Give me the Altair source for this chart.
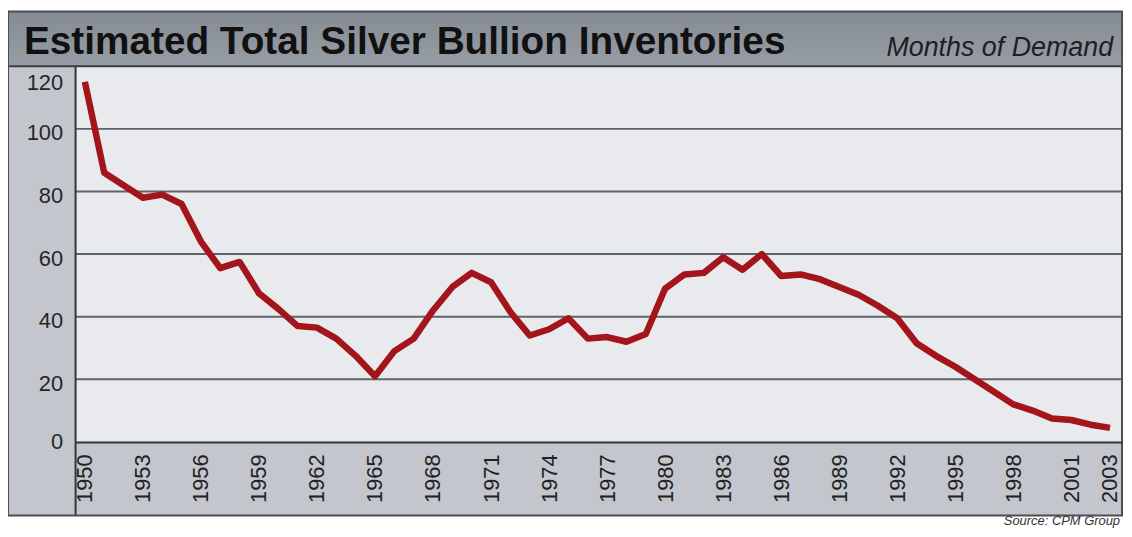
import altair as alt
import pandas as pd

# ---- data ----
years = list(range(1950, 2004))
months = [115, 86, 82, 78, 79, 76, 64, 55.5, 57.5, 47.5,
          42.5, 37, 36.5, 33, 27.5, 21, 29, 33, 42, 49.5,
          54, 51, 41.5, 34, 36, 39.5, 33, 33.5, 32, 34.5,
          49, 53.5, 54, 59, 55, 60, 53, 53.5, 52, 49.5,
          47, 43.5, 39.5, 31.5, 27.5, 24, 20, 16, 12, 10,
          7.5, 7, 5.5, 4.5]
x_tick_years = [1950, 1953, 1956, 1959, 1962, 1965, 1968, 1971, 1974, 1977,
                1980, 1983, 1986, 1989, 1992, 1995, 1998, 2001, 2003]
y_ticks = [0, 20, 40, 60, 80, 100, 120]
grid_values = [20, 40, 60, 80, 100]

title_text = "Estimated Total Silver Bullion Inventories"
unit_text = "Months of Demand"
source_text = "Source: CPM Group"

df = pd.DataFrame({"year": years, "months": months})
grid_df = pd.DataFrame({"months": grid_values})
one = alt.InlineData(values=[{"k": 1}])

W, H = 1053, 378
FONT = "Liberation Sans"

xscale = alt.Scale(domain=[1949.52, 2003.62], nice=False, zero=False)
yscale = alt.Scale(domain=[0, 120], nice=False)

yaxis = alt.Axis(
    values=y_ticks, title=None, grid=False, ticks=False, domain=False,
    labelFontSize=22, labelPadding=13, labelColor="#262626", labelFont=FONT,
    labelBaseline="middle",
    labelOffset={"condition": [{"test": "datum.value == 120", "value": 16},
                               {"test": "datum.value == 0", "value": 0}],
                 "value": 4},
    zindex=1,
)
xaxis = alt.Axis(
    values=x_tick_years, format="d", title=None, grid=False, ticks=False,
    domain=True, domainColor="#33363a", domainWidth=2,
    labelAngle=-90, labelFontSize=22, labelPadding=12, labelColor="#222222",
    labelFont=FONT, labelFlush=False, labelOverlap=False, zindex=1,
)

panel_color = "#c3c6cd"

left_panel = alt.Chart(one).mark_rect(color=panel_color).encode(
    x=alt.value(-68), x2=alt.value(0), y=alt.value(0), y2=alt.value(452))
bottom_band = alt.Chart(one).mark_rect(color=panel_color).encode(
    x=alt.value(0), x2=alt.value(W), y=alt.value(H), y2=alt.value(452))
title_bar = alt.Chart(one).mark_rect(
    color=alt.LinearGradient(
        gradient="linear",
        stops=[alt.GradientStop(color="#858b93", offset=0),
               alt.GradientStop(color="#979da5", offset=1)],
        x1=0, x2=0, y1=0, y2=1)
).encode(x=alt.value(-68), x2=alt.value(W), y=alt.value(-55), y2=alt.value(0))

grid = alt.Chart(grid_df).mark_rule(color="#5f636a", strokeWidth=2).encode(
    y=alt.Y("months:Q", scale=yscale, axis=yaxis))

top_rule = alt.Chart(one).mark_rule(color="#3a3d42", strokeWidth=2).encode(
    x=alt.value(-68), x2=alt.value(W), y=alt.value(0))
left_rule = alt.Chart(one).mark_rule(color="#33363a", strokeWidth=2).encode(
    x=alt.value(0), y=alt.value(0), y2=alt.value(452))

line = alt.Chart(df).mark_line(color="#a3141b", strokeWidth=6.5,
                               strokeJoin="round").encode(
    x=alt.X("year:Q", scale=xscale, axis=xaxis),
    y=alt.Y("months:Q", scale=yscale, axis=yaxis),
)

title = alt.Chart(one).mark_text(
    text=title_text, font=FONT, fontSize=39, fontWeight="bold",
    color="#111111", align="left", baseline="alphabetic"
).encode(x=alt.value(-52), y=alt.value(-12))

unit = alt.Chart(one).mark_text(
    text=unit_text, font=FONT, fontSize=27, fontStyle="italic",
    color="#1e1e1e", align="right", baseline="alphabetic"
).encode(x=alt.value(1044), y=alt.value(-10))

source = alt.Chart(one).mark_text(
    text=source_text, font=FONT, fontSize=13, fontStyle="italic",
    color="#333333", align="right", baseline="alphabetic"
).encode(x=alt.value(1051), y=alt.value(462))

frame = alt.Chart(one).mark_rect(
    fillOpacity=0, stroke="#4b4f55", strokeWidth=2
).encode(x=alt.value(-68), x2=alt.value(W), y=alt.value(-55), y2=alt.value(452))

chart = alt.layer(
    left_panel, bottom_band, title_bar, grid, line, top_rule, left_rule,
    title, unit, source, frame
).properties(
    width=W, height=H,
    padding={"left": 68, "top": 57, "right": 2, "bottom": 86},
    autosize=alt.AutoSizeParams(type="none"),
    background="white",
).configure_view(
    fill="#e8eaee", stroke=None
)

chart.save("out.html", embed_options={"renderer": "svg", "actions": False})
